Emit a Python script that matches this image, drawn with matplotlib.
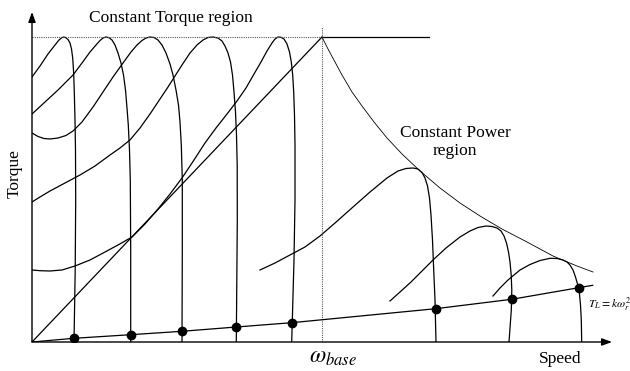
import matplotlib
matplotlib.use("Agg")
import matplotlib.pyplot as plt

plt.rcParams['font.family'] = ['Liberation Serif', 'DejaVu Serif']
plt.rcParams['mathtext.fontset'] = 'stix'

# torque-speed curves in the constant torque region (speed, torque), arbitrary units
c1_speed = [0, 8, 16, 23, 27, 30, 32, 34, 36, 38, 39.5, 40.7, 41.6, 42.3, 43, 43.5, 43.7, 43.2, 42]
c1_torque = [265, 276, 288, 297, 302, 304.5, 305, 304.2, 302.5, 299, 293, 284, 270, 250, 222, 192, 142, 72, 0]

c2_speed = [0, 13, 26, 41, 50, 58, 64, 68, 71, 74, 77, 80, 83, 86, 89, 91.5, 93.5, 95, 96.3,
            97.5, 98.3, 98.7, 98.7]
c2_torque = [228, 240, 252, 267, 279, 290, 297, 301.5, 304, 305, 304.3, 302, 297, 289, 279, 267,
             252, 234, 217, 192, 162, 92, 0]

c3_speed = [0, 6, 12, 18, 26, 34, 41, 50, 61, 71, 81, 91, 99, 105, 110, 114, 118, 122, 126, 130,
            134, 138, 141, 144, 146.5, 148, 149.3, 150.3, 150.3, 150]
c3_torque = [209, 205.5, 203.5, 203, 204, 206.5, 211, 220, 235, 250, 265, 279, 290, 297, 301.5,
             304, 305, 304.5, 302, 297, 289, 278, 267, 252, 237, 220, 197, 162, 92, 0]

c4_speed = [0, 8, 18, 33, 48, 63, 78, 88, 98, 108, 118, 128, 136, 143, 150, 158, 165, 171, 176,
            181, 186, 190, 193, 196, 198.5, 200.5, 202, 203.5, 204.5, 205.2, 205.3, 204.3]
c4_torque = [140, 145, 151, 159, 167, 176, 187, 194, 202, 214, 228, 243, 255, 266, 277, 289, 297,
             302, 304.5, 305, 304, 301, 296, 289, 280, 267, 250, 230, 207, 177, 122, 0]

c5_speed = [0, 8, 18, 30, 43, 58, 73, 86, 100, 113, 126, 138, 150, 162, 173, 184, 195, 205, 214,
            222, 229, 235, 240, 243, 246, 249, 252, 255, 257.5, 259.3, 260.7, 261.7, 262.5, 263,
            263, 262, 259.7]
c5_torque = [72, 71.3, 71, 72, 76, 82, 90, 97, 105, 118, 133, 148, 164, 182, 199, 214, 228, 241,
             254, 268, 280, 291, 299, 303, 305, 304.7, 303, 298, 290, 280, 267, 250, 227, 197,
             142, 82, 0]

# torque-speed curves in the constant power region
c6_speed = [228, 243, 258, 273, 288, 303, 321, 338, 355, 366, 374, 381, 386, 390, 393, 395.5,
            397.5, 399, 400.5, 401.5, 403, 404]
c6_torque = [72, 79, 87, 95, 106, 119, 135, 150, 164, 171, 173.5, 174, 173, 169.5, 164, 156, 144,
             127, 102, 77, 42, 0]

c7_speed = [358, 368, 379, 390, 401, 414, 428, 438, 446, 454, 460, 465, 469, 472, 474.5, 476.5,
            478, 479.2, 479.8, 479.3, 477]
c7_torque = [41, 50, 60, 71, 82, 94, 105, 111, 114.5, 116, 115.5, 114, 111, 106, 99, 90, 80, 67,
             52, 32, 0]

c8_speed = [461, 468, 476, 488, 498, 508, 518, 525, 531, 535, 538, 541, 543.5, 545.5, 547.3,
            548.5, 549.3, 549.7]
c8_torque = [46, 54, 62, 72, 77.5, 81.5, 83.7, 83.5, 82, 80, 77, 72, 65, 58, 50, 37, 22, 0]

# breakdown torque envelope above base speed
env_speed = [290, 296, 303, 310, 320, 330, 342, 355, 370, 388, 408, 428, 448, 470, 495, 521,
             545, 561]
env_torque = [305, 293, 280, 267, 250, 236, 220, 204, 188, 171, 154, 139, 126, 113, 100, 86,
              76, 70]

# load torque T_L = k w^2 and operating points
load_speed = [0, 42, 98.7, 150, 204.3, 259.7, 403.7, 479.7, 546.7, 560.7]
load_torque = [0, 3.7, 7.3, 10.7, 15, 19.3, 33.3, 42.7, 54.3, 56.7]

base_speed = 290
rated_torque = 305
torque_line_end = 397

fig = plt.figure(figsize=(6.3, 3.71), dpi=100)
ax = fig.add_axes([32 / 630, 29 / 371, 580 / 630, 330 / 371])
ax.set_xlim(0, 580)
ax.set_ylim(0, 330)
ax.axis('off')

arrow = dict(arrowstyle='-|>,head_length=0.6,head_width=0.22', lw=1.0,
             color='k', mutation_scale=10, shrinkA=0, shrinkB=0)
ax.annotate('', xy=(0, 330), xytext=(0, 0), arrowprops=arrow)
ax.annotate('', xy=(580, 0), xytext=(0, 0), arrowprops=arrow)

lw = 0.9
for xs, ys in [(c1_speed, c1_torque), (c2_speed, c2_torque), (c3_speed, c3_torque),
               (c4_speed, c4_torque), (c5_speed, c5_torque), (c6_speed, c6_torque),
               (c7_speed, c7_torque), (c8_speed, c8_torque)]:
    ax.plot(xs, ys, color='k', lw=lw, solid_joinstyle='round')

ax.plot(env_speed, env_torque, color='k', lw=0.6)

# rated torque limit and base speed
ax.plot([0, base_speed], [rated_torque, rated_torque], color='0.35', lw=0.8, ls=(0, (1, 1)))
ax.plot([base_speed, torque_line_end], [rated_torque, rated_torque], color='k', lw=0.9)
ax.plot([base_speed, base_speed], [0, 315], color='0.35', lw=0.8, ls=(0, (1, 1)))
ax.plot([0, base_speed], [0, rated_torque], color='k', lw=0.9)

ax.plot(load_speed, load_torque, color='k', lw=0.9)
ax.plot(load_speed[1:9], load_torque[1:9], 'o', color='k', ms=6)

ax.text(139, 324, 'Constant Torque region', fontsize=12.5, ha='center', va='center')
ax.text(423, 200, 'Constant Power\nregion', fontsize=12.5, ha='center', va='center',
        linespacing=1.2)
ax.text(-17, 168, 'Torque', fontsize=12.5, rotation=90, ha='center', va='center')
ax.text(528, -17, 'Speed', fontsize=12.5, ha='center', va='center')
ax.text(277, -16, r'$\omega_{base}$', fontsize=17, ha='left', va='center')
ax.text(556, 38, r'$T_L = k\omega_r^2$', fontsize=8.5, ha='left', va='center')

fig.savefig('out.png', dpi=100)
